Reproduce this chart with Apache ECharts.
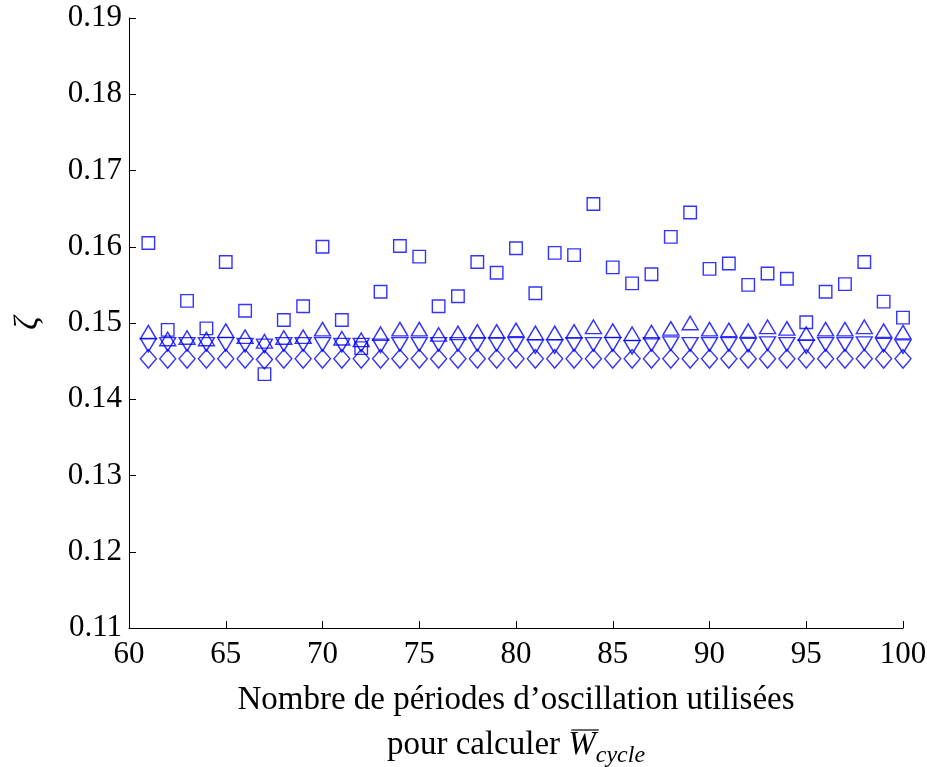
<!DOCTYPE html>
<html>
<head>
<meta charset="utf-8">
<script src="https://cdn.jsdelivr.net/npm/echarts@6/dist/echarts.min.js"></script>
<style>
  html, body { margin: 0; padding: 0; background: #fff; }
  #chart { width: 927px; height: 767px; }
</style>
</head>
<body>
<div id="chart"></div>
<script>
// Number of oscillation periods used for averaging
const periods = [61, 62, 63, 64, 65, 66, 67, 68, 69, 70,
                 71, 72, 73, 74, 75, 76, 77, 78, 79, 80,
                 81, 82, 83, 84, 85, 86, 87, 88, 89, 90,
                 91, 92, 93, 94, 95, 96, 97, 98, 99, 100];

// Damping ratio estimates, one array per method
const zetaSquare = [0.1605, 0.1491, 0.1529, 0.1493, 0.1580, 0.1516, 0.1433, 0.1504, 0.1522, 0.1600,
                    0.1504, 0.1467, 0.1541, 0.1601, 0.1587, 0.1522, 0.1535, 0.1580, 0.1566, 0.1598,
                    0.1539, 0.1592, 0.1589, 0.1656, 0.1573, 0.1552, 0.1564, 0.1613, 0.1645, 0.1571,
                    0.1578, 0.1550, 0.1565, 0.1558, 0.1501, 0.1541, 0.1551, 0.1580, 0.1528, 0.1507];

const zetaUp = [0.1488, 0.1479, 0.1481, 0.1479, 0.1490, 0.1482, 0.1476, 0.1481, 0.1482, 0.1492,
                0.1480, 0.1478, 0.1486, 0.1492, 0.1492, 0.1485, 0.1487, 0.1489, 0.1489, 0.1491,
                0.1487, 0.1487, 0.1489, 0.1495, 0.1490, 0.1486, 0.1488, 0.1493, 0.1500, 0.1492,
                0.1491, 0.1490, 0.1495, 0.1493, 0.1486, 0.1492, 0.1492, 0.1495, 0.1490, 0.1488];

const zetaDown = [0.1471, 0.1472, 0.1472, 0.1472, 0.1472, 0.1471, 0.1470, 0.1472, 0.1472, 0.1472,
                  0.1471, 0.1471, 0.1470, 0.1472, 0.1472, 0.1472, 0.1472, 0.1472, 0.1472, 0.1472,
                  0.1469, 0.1469, 0.1472, 0.1472, 0.1472, 0.1468, 0.1472, 0.1473, 0.1472, 0.1472,
                  0.1472, 0.1471, 0.1473, 0.1472, 0.1469, 0.1472, 0.1472, 0.1473, 0.1471, 0.1469];

const zetaDiamond = [0.1453, 0.1453, 0.1453, 0.1453, 0.1453, 0.1453, 0.1452, 0.1453, 0.1453, 0.1453,
                     0.1453, 0.1453, 0.1453, 0.1453, 0.1453, 0.1453, 0.1453, 0.1453, 0.1453, 0.1453,
                     0.1453, 0.1453, 0.1453, 0.1453, 0.1453, 0.1453, 0.1453, 0.1453, 0.1453, 0.1453,
                     0.1453, 0.1453, 0.1453, 0.1453, 0.1453, 0.1453, 0.1453, 0.1453, 0.1453, 0.1453];

const FONT = 'Liberation Serif';
const FS = 31;        // tick labels
const TFS = 33;       // axis titles
const SUBFS = 24;     // subscript
const BLUE = '#0000ff';

const GRID = { left: 129, top: 18, right: 24, bottom: 139 };
const NAME_GAP = 50;
const LINE_H = 45;

function pairs(vals) {
  return periods.map((p, i) => [p, vals[i]]);
}

function markerSeries(name, vals, symbol, size, rotate) {
  return {
    name: name,
    type: 'scatter',
    data: pairs(vals),
    symbol: symbol,
    symbolSize: size,
    symbolRotate: rotate || 0,
    silent: true,
    itemStyle: { color: 'rgba(0,0,0,0)', borderColor: BLUE, borderWidth: 1.4 }
  };
}

const line1 = 'Nombre de périodes d\u2019oscillation utilisées';
const line2a = 'pour calculer ';
const line2W = 'W';
const line2s = 'cycle';

const chart = echarts.init(document.getElementById('chart'), null, { renderer: 'canvas' });

chart.setOption({
  animation: false,
  backgroundColor: '#ffffff',
  grid: Object.assign({ containLabel: false, outerBoundsMode: 'none' }, GRID),
  xAxis: {
    type: 'value',
    min: 60, max: 100, interval: 5,
    axisLine: { show: true, lineStyle: { color: '#000', width: 1 } },
    axisTick: { show: true, inside: true, length: 7, lineStyle: { color: '#000' } },
    splitLine: { show: false },
    axisLabel: { color: '#000', fontFamily: FONT, fontSize: FS, margin: 11 },
    name: '{l1|' + line1 + '}\n{l2|' + line2a + '}{w|' + line2W + '}{s|' + line2s + '}',
    nameLocation: 'middle',
    nameGap: NAME_GAP,
    nameTextStyle: {
      color: '#000', fontFamily: FONT, fontSize: TFS, verticalAlign: 'top',
      rich: {
        l1: { fontFamily: FONT, fontSize: TFS, color: '#000', lineHeight: LINE_H },
        l2: { fontFamily: FONT, fontSize: TFS, color: '#000', lineHeight: LINE_H },
        w: { fontFamily: FONT, fontSize: TFS, fontStyle: 'italic', color: '#000', lineHeight: LINE_H },
        s: { fontFamily: FONT, fontSize: SUBFS, fontStyle: 'italic', color: '#000',
             verticalAlign: 'bottom', lineHeight: 36 }
      }
    }
  },
  yAxis: {
    type: 'value',
    min: 0.11, max: 0.19, interval: 0.01,
    axisLine: { show: true, lineStyle: { color: '#000', width: 1 } },
    axisTick: { show: true, inside: true, length: 7, lineStyle: { color: '#000' } },
    splitLine: { show: false },
    axisLabel: {
      color: '#000', fontFamily: FONT, fontSize: FS, margin: 7,
      formatter: v => v.toFixed(2)
    },
    name: '\u03b6',
    nameLocation: 'middle',
    nameGap: 84,
    nameRotate: 90,
    nameTextStyle: { color: '#000', fontFamily: FONT, fontSize: TFS, fontStyle: 'italic' }
  },
  series: [
    markerSeries('square', zetaSquare, 'rect', [12.5, 12.5]),
    markerSeries('up', zetaUp, 'triangle', [16, 13.5]),
    markerSeries('down', zetaDown, 'triangle', [16, 13.5], 180),
    markerSeries('diamond', zetaDiamond, 'diamond', [16, 18.5])
  ]
});

// Overline above the W of the averaged work symbol, placed from measured text widths
(function addOverline() {
  const ctx = document.createElement('canvas').getContext('2d');
  ctx.font = TFS + 'px "' + FONT + '"';
  const wA = ctx.measureText(line2a).width;
  ctx.font = 'italic ' + TFS + 'px "' + FONT + '"';
  const wW = ctx.measureText(line2W).width;
  ctx.font = 'italic ' + SUBFS + 'px "' + FONT + '"';
  const wS = ctx.measureText(line2s).width;
  const total = wA + wW + wS;
  const W = chart.getWidth(), H = chart.getHeight();
  const cx = GRID.left + (W - GRID.left - GRID.right) / 2;
  const xStart = cx - total / 2 + wA;
  const axisY = H - GRID.bottom;
  const lineTop = axisY + NAME_GAP + LINE_H;
  const y = lineTop + (LINE_H - TFS) / 2 + 1;
  chart.getZr().add(new echarts.graphic.Line({
    shape: { x1: xStart + 3, y1: y, x2: xStart + wW + 3, y2: y },
    style: { stroke: '#000', lineWidth: 1.2 },
    silent: true
  }));
})();
</script>
</body>
</html>
